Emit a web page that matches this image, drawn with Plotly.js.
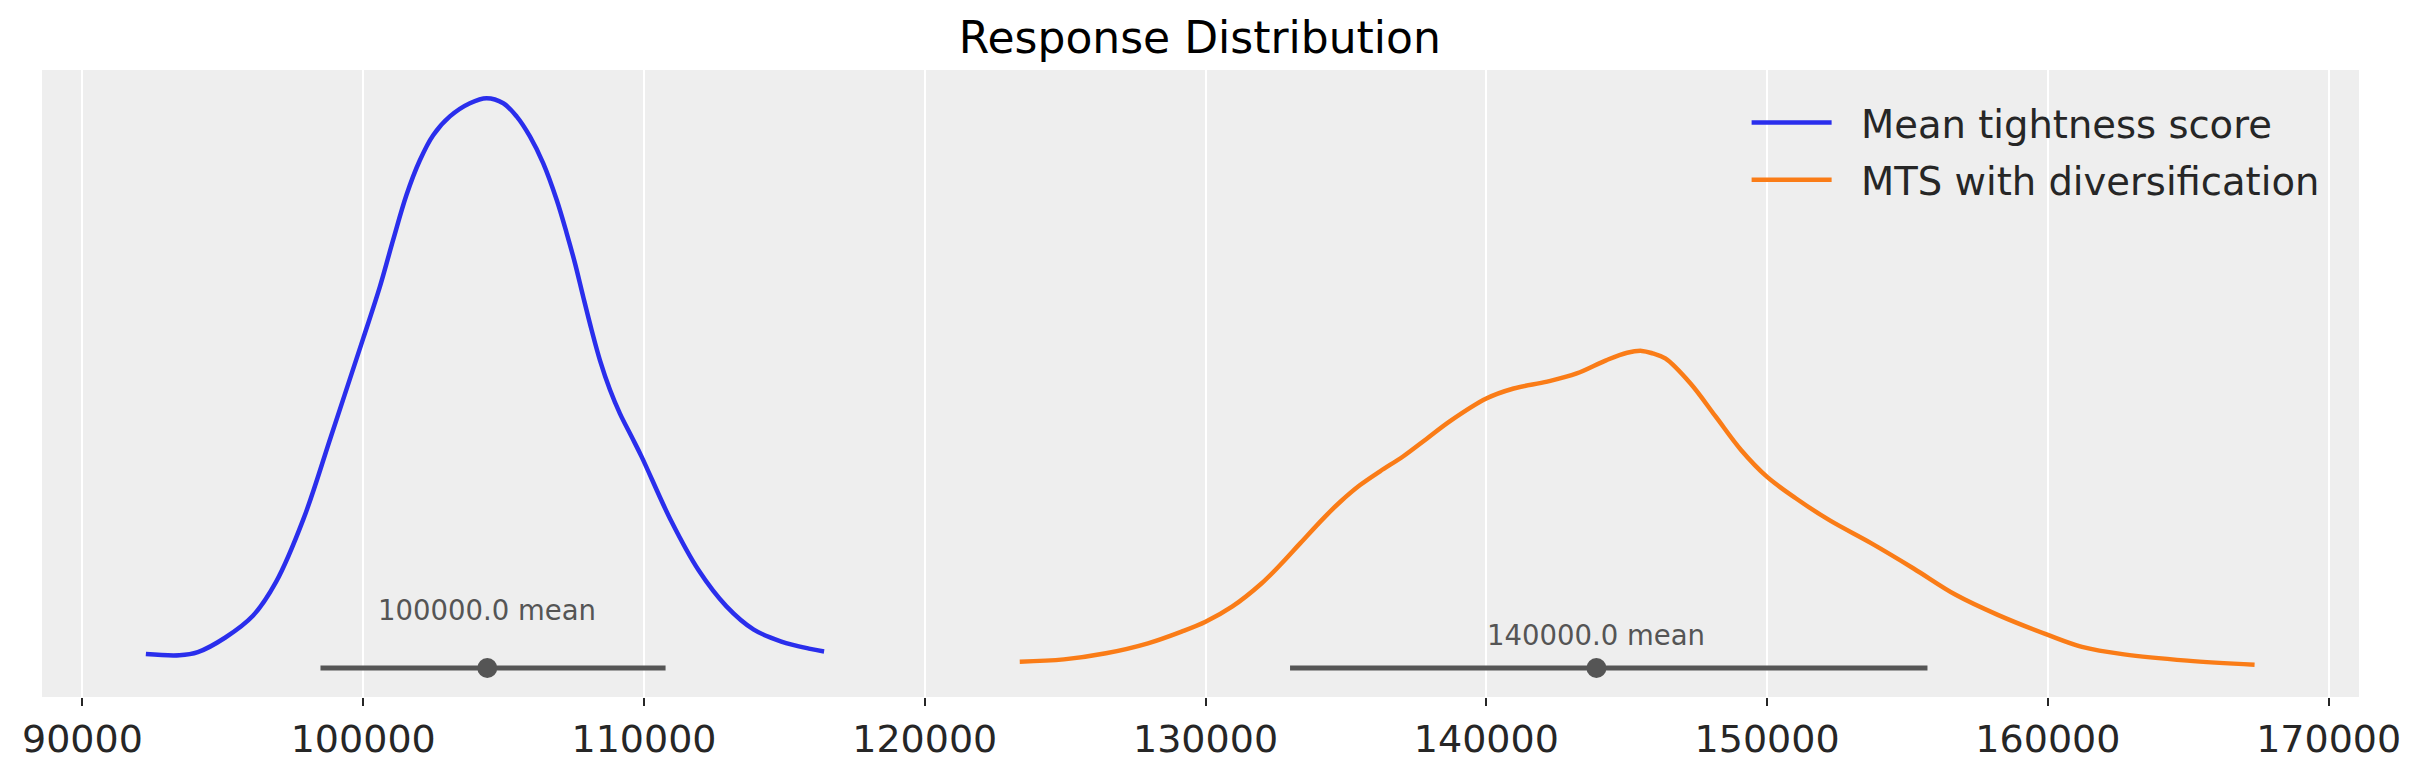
<!DOCTYPE html>
<html>
<head>
<meta charset="utf-8">
<script src="https://cdn.plot.ly/plotly-3.0.1.min.js"></script>
<style>html,body{margin:0;padding:0;background:#fff;}#chart{width:2423px;height:773px;}</style>
</head>
<body>
<div id="chart"></div>
<script>
// Series names
const seriesNames = ["Mean tightness score", "MTS with diversification"];
const seriesColors = ["#2a2eec", "#fa7c17"];

// KDE curve of "Mean tightness score" (x value, relative density)
const blueX = [92259, 93454, 94109, 95091, 96072, 96891, 97873, 98854, 100000, 100592, 101066, 101543, 102017, 102491, 103086, 103799, 104394, 104989, 105463, 105937, 106412, 106889, 107245, 107541, 107837, 108136, 108432, 108788, 109144, 109561, 109918, 110965, 111946, 112928, 113910, 114892, 115874, 116414];
const blueY = [6.84, 6.65, 7.16, 9.49, 12.95, 18.31, 28.4, 41.6, 57.2, 65.4, 72.9, 80.1, 85.6, 89.6, 92.6, 94.7, 95.5, 94.7, 92.6, 89.4, 85.1, 79.3, 74.0, 69.2, 63.8, 58.5, 53.7, 49.0, 45.2, 41.5, 38.3, 28.1, 20.2, 14.5, 10.75, 8.85, 7.72, 7.27];

// KDE curve of "MTS with diversification"
const orangeX = [123383, 124955, 126452, 127949, 129147, 130000, 130943, 131991, 132656, 133368, 134198, 134791, 135503, 136215, 137045, 137878, 138708, 140000, 140973, 142171, 143219, 144266, 145015, 145539, 145923, 146373, 147272, 148172, 149071, 150000, 151019, 152218, 153717, 155216, 156716, 158215, 160000, 161214, 162713, 164962, 167361];
const orangeY = [5.64, 6.0, 6.97, 8.56, 10.43, 12.0, 14.4, 18.1, 21.05, 24.5, 28.5, 31.1, 33.8, 36.0, 38.4, 41.2, 44.0, 47.6, 49.2, 50.3, 51.6, 53.7, 54.9, 55.2, 54.8, 54.0, 50.0, 44.7, 39.4, 35.1, 31.7, 28.2, 24.5, 20.5, 16.3, 13.1, 9.9, 8.0, 6.8, 5.8, 5.15];

// Point estimates and HDI intervals
const means = [104419, 143922];
const hdiLow = [98478, 133009];
const hdiHigh = [110768, 155711];
const hdiLevel = 4.63;
const meanLabels = ["100000.0 mean", "140000.0 mean"];
const labelY = [13.8, 9.9];

// Axis ticks
const tickVals = [90000, 100000, 110000, 120000, 130000, 140000, 150000, 160000, 170000];
const tickText = tickVals.map(v => String(v));

const FONT = "DejaVu Sans, Liberation Sans, sans-serif";
const GREY = "#555555";
const NBSP = "\u00a0\u00a0";

const traces = [
  {x: blueX, y: blueY, type: "scatter", mode: "lines", name: NBSP + seriesNames[0],
   line: {color: seriesColors[0], width: 4.5, shape: "spline", smoothing: 1}, legendgroup: "a"},
  {x: orangeX, y: orangeY, type: "scatter", mode: "lines", name: NBSP + seriesNames[1],
   line: {color: seriesColors[1], width: 4.5, shape: "spline", smoothing: 1}, legendgroup: "b"}
];
for (let i = 0; i < means.length; i++) {
  traces.push({x: [hdiLow[i], hdiHigh[i]], y: [hdiLevel, hdiLevel], type: "scatter", mode: "lines",
    line: {color: GREY, width: 5}, showlegend: false, hoverinfo: "skip"});
  traces.push({x: [means[i]], y: [hdiLevel], type: "scatter", mode: "markers",
    marker: {color: GREY, size: 20}, showlegend: false});
}

const annotations = means.map((m, i) => ({
  x: m, y: labelY[i], xref: "x", yref: "y", text: meanLabels[i], showarrow: false,
  font: {family: FONT, size: 27.5, color: GREY}, xanchor: "center", yanchor: "middle"
}));

const layout = {
  width: 2423, height: 773,
  margin: {l: 42, r: 64, t: 70, b: 76, pad: 0},
  paper_bgcolor: "#ffffff", plot_bgcolor: "#eeeeee",
  font: {family: FONT, color: "#262626"},
  title: {text: "Response Distribution", font: {family: FONT, size: 44, color: "#000000"},
          x: 0.4952, xanchor: "center", y: 1 - 37.5 / 773, yanchor: "middle", yref: "container"},
  xaxis: {range: [88560, 171080], tickvals: tickVals, ticktext: tickText, showgrid: true,
          gridcolor: "#ffffff", gridwidth: 2, zeroline: false, showline: false,
          ticks: "outside", ticklen: 8, tickwidth: 2, tickcolor: "#262626",
          tickfont: {family: FONT, size: 38, color: "#262626"}},
  yaxis: {range: [0, 100], showgrid: false, zeroline: false, showticklabels: false, ticks: "", showline: false},
  showlegend: true,
  legend: {x: 0.7357, xanchor: "left", y: 0.9664, yanchor: "top", bgcolor: "rgba(0,0,0,0)",
           font: {family: FONT, size: 38.5, color: "#262626"}, itemwidth: 80,
           traceorder: "grouped", tracegroupgap: 4},
  annotations: annotations
};

Plotly.newPlot("chart", traces, layout, {staticPlot: true});
</script>
</body>
</html>
